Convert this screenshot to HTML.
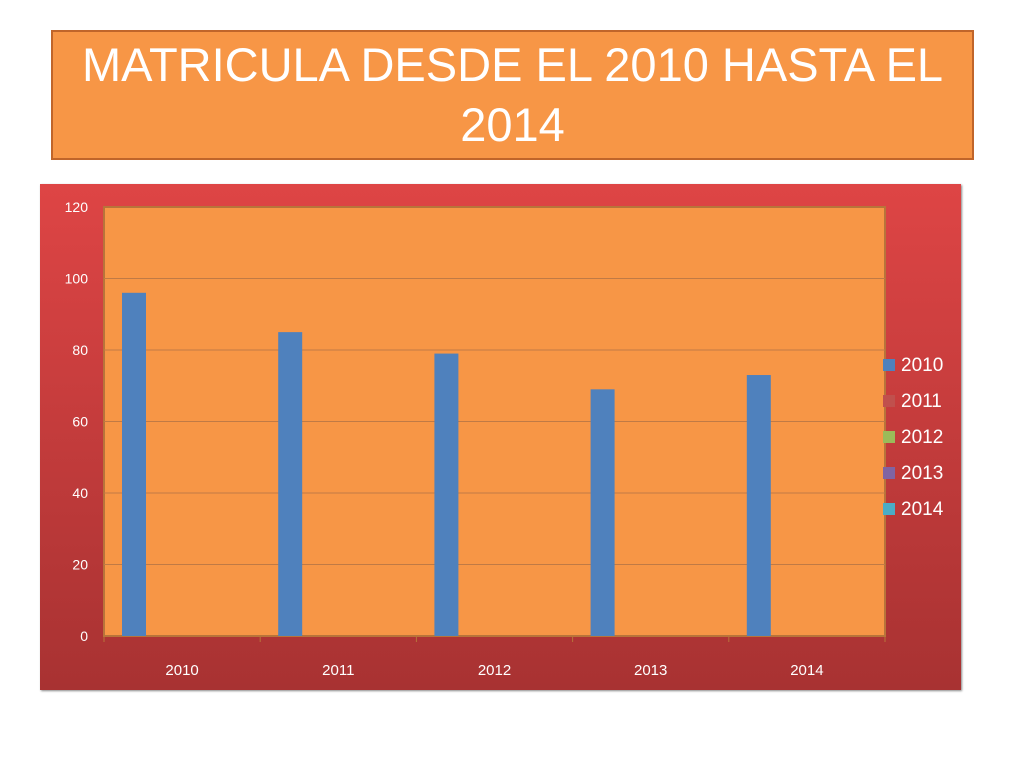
<!DOCTYPE html>
<html><head><meta charset="utf-8"><style>
body{margin:0;width:1024px;height:768px;background:#fff;position:relative;overflow:hidden;font-family:"Liberation Sans",sans-serif}
#title{position:absolute;left:51px;top:30px;width:919px;height:126px;background:#F79646;border:2px solid #C0652A;color:#fff;font-size:47px;text-align:center;line-height:60px;box-sizing:content-box}
#title div{padding-top:3px}
#chart{position:absolute;left:40px;top:184px;width:921px;height:506px;background:linear-gradient(#DE4545,#A83232);box-shadow:1px 1px 2px #888}
svg{position:absolute;left:0;top:0}
</style></head><body>
<div id="title"><div>MATRICULA DESDE EL 2010 HASTA EL<br>2014</div></div>
<div id="chart"></div>
<svg id="svg" width="1024" height="768"></svg>
<script>
const categories=["2010","2011","2012","2013","2014"];
const seriesNames=["2010","2011","2012","2013","2014"];
const s2010=[96,85,79,69,73];
const s2011=[0,0,0,0,0];
const s2012=[0,0,0,0,0];
const s2013=[0,0,0,0,0];
const s2014=[0,0,0,0,0];
const yTicks=[0,20,40,60,80,100,120];
const series=[s2010,s2011,s2012,s2013,s2014];
const colors=["#4F81BD","#C0504D","#9BBB59","#8064A2","#4BACC6"];
const NS="http://www.w3.org/2000/svg";
const svg=document.getElementById('svg');
const L=104,R=885,T=207,B=636,yMax=120;
const y=v=>B-(v/yMax)*(B-T);
const cw=(R-L)/categories.length;
function el(t,a,txt){const e=document.createElementNS(NS,t);for(const k in a)e.setAttribute(k,a[k]);if(txt!==undefined)e.textContent=txt;svg.appendChild(e);return e;}
const pa=el('rect',{x:L,y:T,width:R-L,height:B-T,fill:'#F79646',stroke:'#B8743A','stroke-width':2});

yTicks.forEach(t=>{
 if(t>0&&t<yMax){const g=el('line',{x1:L,x2:R,y1:y(t),y2:y(t),stroke:'#C07A45','stroke-width':1});}
 const tx=el('text',{x:88,y:y(t)+5,fill:'#fff','font-size':14,'text-anchor':'end'},t);
 
});
const bw=24,gap=18;
categories.forEach((c,i)=>{
 const x0=L+i*cw;
 const tk=el('line',{x1:x0,x2:x0,y1:B,y2:B+6,stroke:'#B8743A'});
 const tx=el('text',{x:x0+cw/2,y:B+39,fill:'#fff','font-size':15,'text-anchor':'middle'},c);
 
 series.forEach((s,j)=>{
  if(s[i]<=0)return;
  const r=el('rect',{x:x0+gap+j*bw,y:y(s[i]),width:bw,height:B-y(s[i]),fill:colors[j]});
  
 });
});
const tkE=el('line',{x1:R,x2:R,y1:B,y2:B+6,stroke:'#B8743A'});
seriesNames.forEach((n,j)=>{
 const yy=359+j*36;
 const sq=el('rect',{x:883,y:yy,width:12,height:12,fill:colors[j]});
 const t=el('text',{x:901,y:yy+12,fill:'#fff','font-size':19},n);
});
</script>
</body></html>
